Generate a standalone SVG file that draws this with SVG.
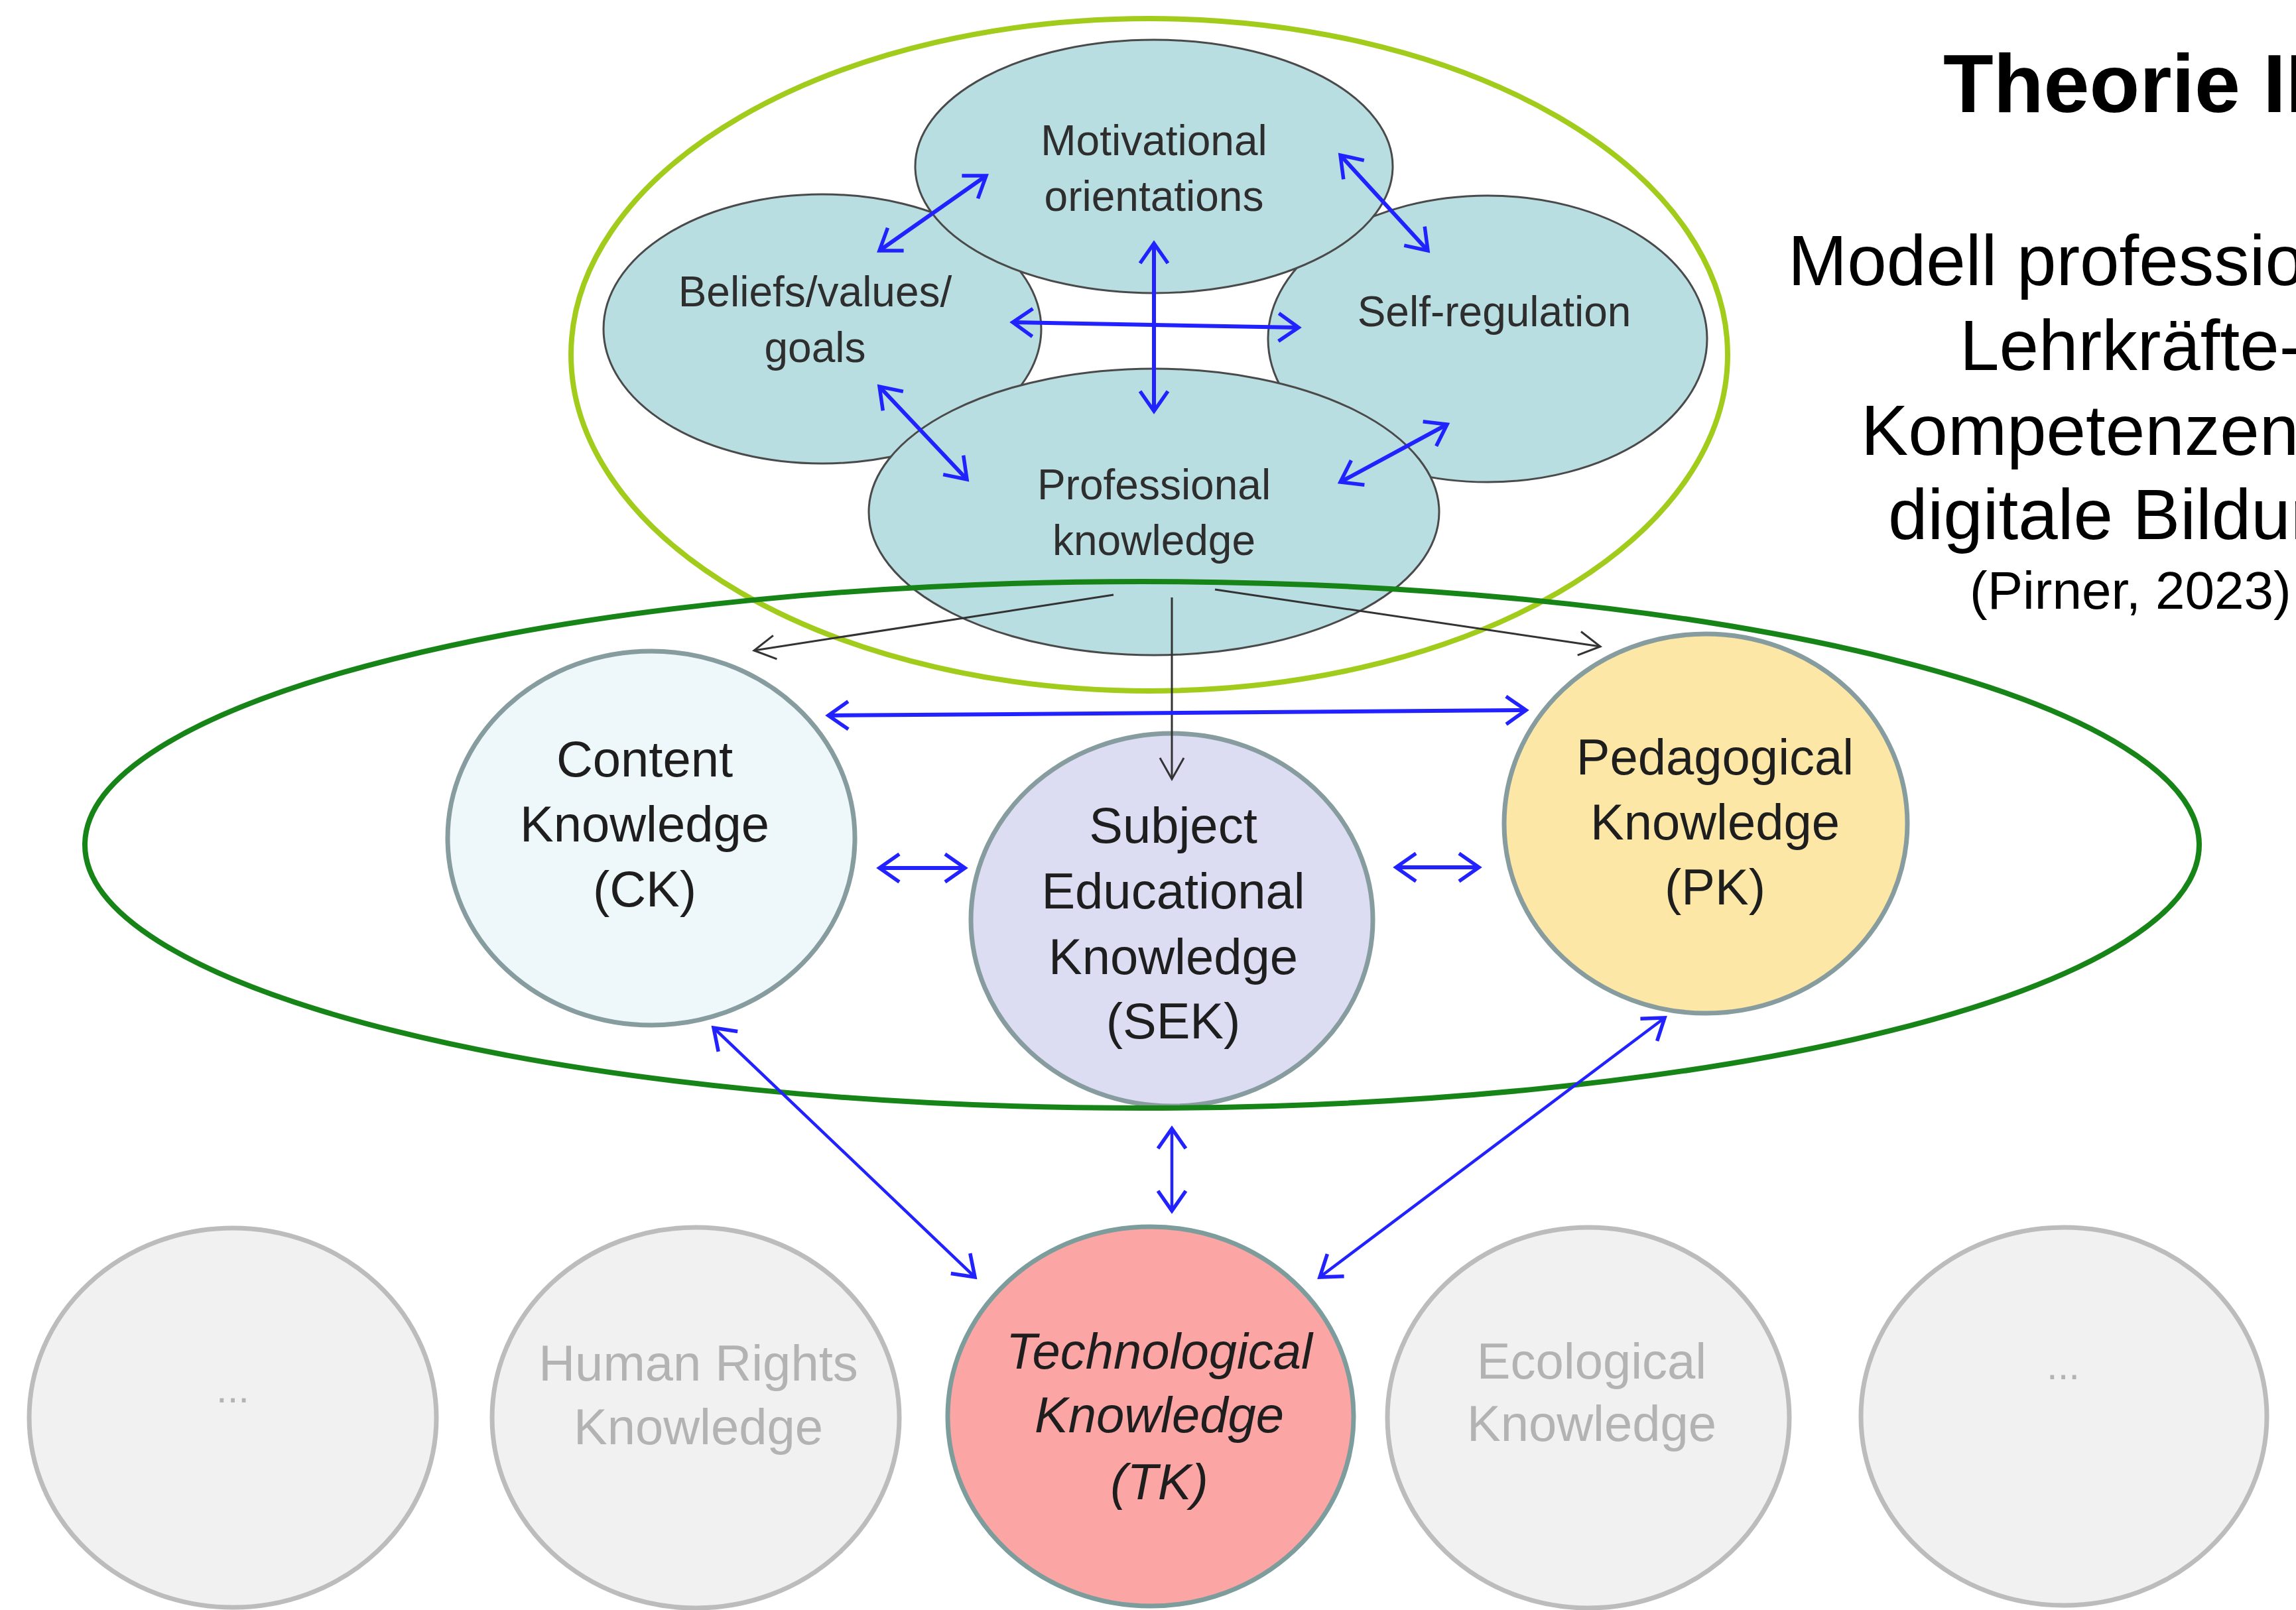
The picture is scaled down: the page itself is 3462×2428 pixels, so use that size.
<svg xmlns="http://www.w3.org/2000/svg" width="3462" height="2428" viewBox="0 0 3462 2428">
<style>
text{font-family:"Liberation Sans",Arial,sans-serif;}
.teal{fill:#b9dee1;stroke:#4a4a4a;stroke-width:3;}
.tl{font-size:64px;fill:#2e2e2e;text-anchor:middle;}
.mid{stroke:#869c9e;stroke-width:7;}
.ml{font-size:76px;fill:#1e1e1e;text-anchor:middle;}
.gray{fill:#f1f1f1;stroke:#bcbcbc;stroke-width:7;}
.gl{font-size:76px;fill:#b3b3b3;text-anchor:middle;}
.blue{stroke:#2222ff;stroke-width:6;fill:none;marker-start:url(#bh);marker-end:url(#bh);}
.thin{stroke-width:4.5;}
.blk{stroke:#333;stroke-width:3;fill:none;marker-end:url(#kh);}
.title{font-size:124px;font-weight:bold;fill:#000;}
.sub{font-size:107px;fill:#000;}
</style>
<defs>
<marker id="bh" viewBox="-34 -26 40 52" refX="0" refY="0" markerWidth="40" markerHeight="52" markerUnits="userSpaceOnUse" orient="auto-start-reverse">
<path d="M-30,-21 L0,0 L-30,21" fill="none" stroke="#2222ff" stroke-width="5.5"/>
</marker>
<marker id="kh" viewBox="-36 -24 42 48" refX="0" refY="0" markerWidth="42" markerHeight="48" markerUnits="userSpaceOnUse" orient="auto">
<path d="M-32,-18 L0,0 L-32,18" fill="none" stroke="#333" stroke-width="3"/>
</marker>
</defs>
<rect width="3462" height="2428" fill="#fff"/>

<g id="title">
<text class="title" x="2930" y="169">Theorie II</text>
<text class="sub" x="2696" y="430">Modell professio</text>
<text class="sub" x="2955" y="558">Lehrkräfte-</text>
<text class="sub" x="2806" y="686">Kompetenzen</text>
<text class="sub" x="2847" y="813">digitale Bildun</text>
<text x="2970" y="918" style="font-size:80px;fill:#000">(Pirner, 2023)</text>
</g>

<g id="beliefs"><ellipse class="teal" cx="1240" cy="496" rx="330" ry="203"/>
<text class="tl" x="1229" y="462">Beliefs/values/</text><text class="tl" x="1229" y="546">goals</text></g>
<g id="self-regulation"><ellipse class="teal" cx="2243" cy="511" rx="331" ry="216"/>
<text class="tl" x="2253" y="492">Self-regulation</text></g>
<g id="motivational"><ellipse class="teal" cx="1740" cy="251" rx="360" ry="191"/>
<text class="tl" x="1740" y="234">Motivational</text><text class="tl" x="1740" y="318">orientations</text></g>
<g id="professional"><ellipse class="teal" cx="1740" cy="772" rx="430" ry="216"/>
<text class="tl" x="1740" y="753">Professional</text><text class="tl" x="1740" y="837">knowledge</text></g>

<g id="ck"><ellipse class="mid" cx="982" cy="1264" rx="307" ry="282" fill="#eef7f9"/>
<text class="ml" x="972" y="1171">Content</text><text class="ml" x="972" y="1269">Knowledge</text><text class="ml" x="972" y="1367">(CK)</text></g>
<g id="sek"><ellipse class="mid" cx="1767" cy="1387" rx="303" ry="281" fill="#dcdcf3"/>
<text class="ml" x="1769" y="1271">Subject</text><text class="ml" x="1769" y="1370">Educational</text><text class="ml" x="1769" y="1469">Knowledge</text><text class="ml" x="1769" y="1566">(SEK)</text></g>
<g id="pk"><ellipse class="mid" cx="2572" cy="1242" rx="304" ry="286" fill="#fde7a6"/>
<text class="ml" x="2586" y="1168">Pedagogical</text><text class="ml" x="2586" y="1266">Knowledge</text><text class="ml" x="2586" y="1364">(PK)</text></g>

<g id="outer-top"><ellipse cx="1733" cy="535" rx="872" ry="507" fill="none" stroke="#a2cc1c" stroke-width="8"/></g>
<g id="outer-mid"><ellipse cx="1722" cy="1274" rx="1594" ry="397" fill="none" stroke="#178417" stroke-width="8"/></g>

<g id="dots-left"><ellipse class="gray" cx="351" cy="2138" rx="307" ry="286"/>
<text class="gl" x="351" y="2115" style="font-size:60px">...</text></g>
<g id="human-rights"><ellipse class="gray" cx="1049" cy="2138" rx="307" ry="287"/>
<text class="gl" x="1053" y="2082">Human Rights</text><text class="gl" x="1053" y="2178">Knowledge</text></g>
<g id="tk"><ellipse cx="1735" cy="2136" rx="306" ry="286" fill="#fca5a5" stroke="#7d9c9c" stroke-width="7"/>
<text class="ml" x="1748" y="2064" font-style="italic">Technological</text><text class="ml" x="1748" y="2160" font-style="italic">Knowledge</text><text class="ml" x="1748" y="2261" font-style="italic">(TK)</text></g>
<g id="ecological"><ellipse class="gray" cx="2395" cy="2138" rx="303" ry="287"/>
<text class="gl" x="2400" y="2079">Ecological</text><text class="gl" x="2400" y="2173">Knowledge</text></g>
<g id="dots-right"><ellipse class="gray" cx="3112" cy="2136" rx="306" ry="285"/>
<text class="gl" x="3111" y="2080" style="font-size:60px">...</text></g>

<g id="connectors">
<line class="blue" x1="1487" y1="265" x2="1326" y2="378"/>
<line class="blue" x1="2021" y1="234" x2="2153" y2="378"/>
<line class="blue" x1="1740" y1="367" x2="1740" y2="620"/>
<line class="blue" x1="1527" y1="486" x2="1958" y2="494"/>
<line class="blue" x1="1326" y1="583" x2="1458" y2="723"/>
<line class="blue" x1="2182" y1="640" x2="2021" y2="727"/>
<line class="blk" x1="1679" y1="897" x2="1137" y2="981"/>
<line class="blk" x1="1767" y1="901" x2="1767" y2="1175"/>
<line class="blk" x1="1832" y1="889" x2="2413" y2="975"/>
<line class="blue" x1="1249" y1="1079" x2="2301" y2="1071"/>
<line class="blue" x1="1326" y1="1309" x2="1455" y2="1309"/>
<line class="blue" x1="2105" y1="1308" x2="2230" y2="1308"/>
<line class="blue thin" x1="1076" y1="1550" x2="1470" y2="1926"/>
<line class="blue thin" x1="1767" y1="1702" x2="1767" y2="1826"/>
<line class="blue thin" x1="2510" y1="1535" x2="1990" y2="1926"/>
</g>
</svg>
